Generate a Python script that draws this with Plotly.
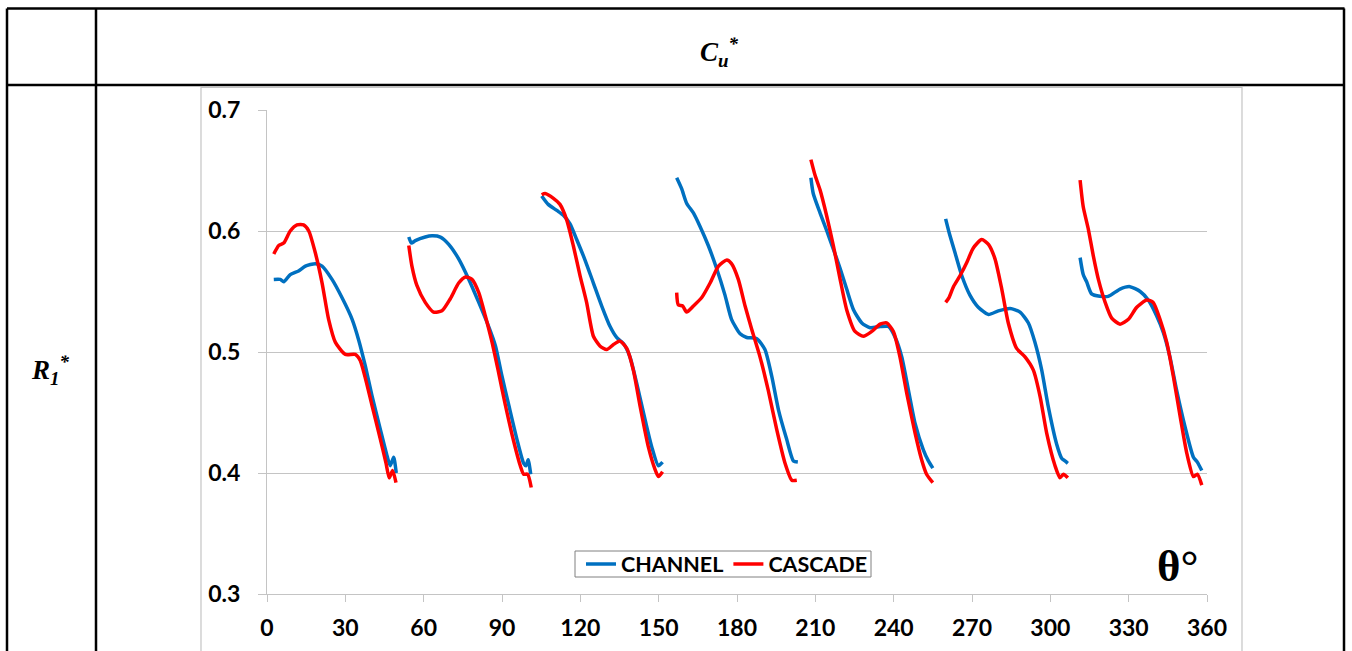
import plotly.graph_objects as go

# ---------------- data ----------------
channel_theta = [
    2.6, 5.1, 6.4, 8.9, 12.1, 14.7, 18.5, 21.1, 24.9, 28.7, 32.6, 35.1, 37.7, 40.2, 43.4, 46.0, 47.2, 48.5, 49.5, None,
    54.3, 55.3, 56.8, 60.6, 63.2, 66.4, 69.6, 73.4, 77.3, 81.1, 84.9, 87.5, 90.0, 92.6, 95.7, 98.3, 99.2, 100.0, 101.0, None,
    105.2, 107.7, 111.0, 113.5, 116.0, 118.6, 121.8, 125.0, 128.2, 131.4, 133.9, 136.5, 139.0, 141.6, 144.8, 147.3, 149.9, 151.5, None,
    156.9, 158.8, 160.7, 163.3, 165.8, 169.0, 172.2, 175.4, 177.9, 181.2, 183.7, 187.6, 190.7, 193.3, 195.9, 199.0, 201.6, 203.3, None,
    208.3, 209.2, 211.8, 214.4, 216.9, 219.5, 222.0, 224.6, 227.8, 231.0, 234.8, 238.0, 240.6, 243.1, 245.7, 248.2, 251.4, 253.3, 255.0, None,
    259.9, 261.2, 263.5, 266.1, 269.2, 272.4, 276.3, 280.1, 284.6, 288.4, 291.6, 294.1, 296.7, 299.2, 302.4, 304.4, 305.6, 306.7, None,
    311.4, 312.6, 313.9, 315.8, 319.0, 322.2, 326.7, 330.5, 334.4, 337.5, 340.7, 343.3, 345.8, 348.4, 351.6, 354.8, 356.3, 358.0,
]
channel_cu = [
    0.560, 0.560, 0.558, 0.564, 0.567, 0.571, 0.573, 0.571, 0.560, 0.545, 0.527, 0.510, 0.488, 0.464, 0.436, 0.414, 0.406, 0.413, 0.400, None,
    0.595, 0.590, 0.592, 0.595, 0.596, 0.595, 0.589, 0.577, 0.560, 0.541, 0.521, 0.505, 0.480, 0.456, 0.428, 0.408, 0.406, 0.411, 0.399, None,
    0.629, 0.622, 0.617, 0.613, 0.606, 0.593, 0.576, 0.557, 0.538, 0.521, 0.512, 0.507, 0.496, 0.474, 0.444, 0.422, 0.406, 0.409, None,
    0.644, 0.635, 0.623, 0.615, 0.604, 0.588, 0.569, 0.547, 0.527, 0.515, 0.512, 0.511, 0.502, 0.480, 0.452, 0.428, 0.410, 0.409, None,
    0.644, 0.631, 0.615, 0.600, 0.585, 0.569, 0.552, 0.535, 0.524, 0.520, 0.521, 0.521, 0.512, 0.496, 0.468, 0.441, 0.419, 0.410, 0.404, None,
    0.610, 0.599, 0.582, 0.563, 0.547, 0.537, 0.531, 0.534, 0.536, 0.533, 0.524, 0.508, 0.485, 0.455, 0.424, 0.412, 0.410, 0.408, None,
    0.578, 0.564, 0.558, 0.548, 0.546, 0.546, 0.552, 0.554, 0.550, 0.543, 0.530, 0.516, 0.496, 0.468, 0.438, 0.413, 0.409, 0.402,
]

cascade_theta = [
    2.6, 4.5, 6.4, 8.9, 11.5, 14.0, 16.0, 18.5, 21.1, 23.6, 26.2, 30.0, 33.8, 35.7, 37.7, 40.2, 43.4, 45.6, 46.8, 48.1, 49.4, None,
    54.3, 55.5, 57.4, 60.6, 63.8, 67.0, 70.2, 73.4, 76.0, 78.5, 81.1, 83.6, 86.2, 88.7, 91.3, 94.5, 97.0, 98.3, 99.8, 101.2, None,
    105.2, 106.5, 109.7, 112.2, 114.8, 117.3, 119.9, 122.4, 125.0, 127.5, 130.1, 132.6, 135.2, 137.8, 140.3, 142.9, 146.0, 148.6, 149.9, 151.5, None,
    156.9, 157.5, 159.2, 160.7, 163.3, 166.5, 169.7, 172.9, 176.1, 177.9, 180.5, 183.1, 185.6, 188.8, 192.0, 195.2, 198.4, 201.0, 202.9, None,
    208.3, 209.9, 211.8, 214.4, 216.9, 219.5, 222.0, 225.2, 228.4, 231.6, 234.8, 237.3, 239.9, 242.4, 245.0, 248.2, 250.7, 252.6, 255.0, None,
    259.9, 261.2, 262.9, 265.4, 268.0, 270.5, 273.7, 276.3, 278.8, 281.4, 283.9, 287.1, 290.3, 293.5, 296.1, 298.6, 301.8, 303.7, 305.0, 306.7, None,
    311.4, 312.6, 314.6, 316.5, 318.4, 321.0, 323.5, 326.7, 329.9, 333.1, 336.9, 339.4, 342.0, 344.6, 347.1, 349.7, 352.3, 354.8, 356.3, 358.0,
]
cascade_cu = [
    0.581, 0.588, 0.590, 0.600, 0.605, 0.605, 0.600, 0.582, 0.557, 0.527, 0.508, 0.498, 0.498, 0.493, 0.478, 0.456, 0.428, 0.408, 0.396, 0.402, 0.392, None,
    0.588, 0.571, 0.555, 0.541, 0.533, 0.534, 0.544, 0.557, 0.562, 0.560, 0.549, 0.530, 0.508, 0.483, 0.456, 0.426, 0.406, 0.399, 0.399, 0.388, None,
    0.630, 0.631, 0.627, 0.622, 0.609, 0.588, 0.563, 0.541, 0.513, 0.505, 0.502, 0.506, 0.509, 0.503, 0.485, 0.455, 0.422, 0.403, 0.397, 0.401, None,
    0.549, 0.539, 0.538, 0.533, 0.538, 0.545, 0.557, 0.571, 0.576, 0.573, 0.560, 0.538, 0.519, 0.496, 0.468, 0.436, 0.408, 0.394, 0.394, None,
    0.659, 0.646, 0.634, 0.612, 0.588, 0.560, 0.535, 0.517, 0.513, 0.517, 0.523, 0.524, 0.517, 0.496, 0.466, 0.433, 0.411, 0.399, 0.392, None,
    0.541, 0.545, 0.554, 0.563, 0.574, 0.586, 0.593, 0.589, 0.577, 0.552, 0.524, 0.503, 0.496, 0.485, 0.463, 0.433, 0.406, 0.396, 0.399, 0.396, None,
    0.642, 0.620, 0.601, 0.579, 0.560, 0.541, 0.528, 0.523, 0.527, 0.537, 0.543, 0.541, 0.527, 0.508, 0.480, 0.447, 0.416, 0.397, 0.399, 0.390,
]

x_ticks = [0, 30, 60, 90, 120, 150, 180, 210, 240, 270, 300, 330, 360]
y_ticks = [0.3, 0.4, 0.5, 0.6, 0.7]
series_names = ["CHANNEL", "CASCADE"]
header_col_label = "<b><i>C<sub>u</sub><sup>*</sup></i></b>"
header_row_label = "<b><i>R<sub>1</sub><sup>*</sup></i></b>"
axis_unit_label = "<b>θ°</b>"

# ---------------- layout geometry (pixels) ----------------
W, H = 1352, 651
PL, PR, PT, PB = 267, 1207, 110, 594   # plot area in pixels


def pxx(px):
    return (px - PL) / (PR - PL)


def pxy(py):
    return (PB - py) / (PB - PT)


fig = go.Figure()
fig.add_trace(go.Scatter(x=channel_theta, y=channel_cu, mode="lines", name=series_names[0],
                         line=dict(color="#0070C0", width=3.5, shape="spline", smoothing=0.6),
                         connectgaps=False))
fig.add_trace(go.Scatter(x=cascade_theta, y=cascade_cu, mode="lines", name=series_names[1],
                         line=dict(color="#FF0000", width=3.5, shape="spline", smoothing=0.6),
                         connectgaps=False))

black = dict(color="black", width=2.5)
gray = dict(color="#c4c4c4", width=1.2)
shapes = [
    # chart frame (gray)
    dict(type="line", xref="paper", yref="paper", x0=pxx(201), x1=pxx(201), y0=pxy(87), y1=pxy(700), line=gray),
    dict(type="line", xref="paper", yref="paper", x0=pxx(1242), x1=pxx(1242), y0=pxy(87), y1=pxy(700), line=gray),
    dict(type="line", xref="paper", yref="paper", x0=pxx(201), x1=pxx(1242), y0=pxy(87.5), y1=pxy(87.5), line=gray),
    # table borders (black)
    dict(type="line", xref="paper", yref="paper", x0=pxx(7), x1=pxx(1344.5), y0=pxy(8.5), y1=pxy(8.5), line=black),
    dict(type="line", xref="paper", yref="paper", x0=pxx(7), x1=pxx(1344.5), y0=pxy(85), y1=pxy(85), line=black),
    dict(type="line", xref="paper", yref="paper", x0=pxx(7), x1=pxx(7), y0=pxy(8.5), y1=pxy(700), line=black),
    dict(type="line", xref="paper", yref="paper", x0=pxx(96), x1=pxx(96), y0=pxy(8.5), y1=pxy(700), line=black),
    dict(type="line", xref="paper", yref="paper", x0=pxx(1344), x1=pxx(1344), y0=pxy(8.5), y1=pxy(700), line=black),
    # legend frame
    dict(type="rect", xref="paper", yref="paper", x0=pxx(575), x1=pxx(871), y0=pxy(551), y1=pxy(577),
         line=dict(color="#808080", width=1), fillcolor="white", layer="above"),
]

annotations = [
    dict(text=header_col_label, xref="paper", yref="paper", x=pxx(719), y=pxy(52),
         xanchor="center", yanchor="middle", showarrow=False,
         font=dict(family="Liberation Serif", size=27, color="black")),
    dict(text=header_row_label, xref="paper", yref="paper", x=pxx(50), y=pxy(370),
         xanchor="center", yanchor="middle", showarrow=False,
         font=dict(family="Liberation Serif", size=27, color="black")),
    dict(text=axis_unit_label, xref="paper", yref="paper", x=pxx(1177), y=pxy(566),
         xanchor="center", yanchor="middle", showarrow=False,
         font=dict(family="Liberation Serif", size=45, color="black")),
]

tick_font = dict(family="Lato", size=23, color="black", weight="bold")

fig.update_layout(
    width=W, height=H,
    margin=dict(l=PL, r=W - PR, t=PT, b=H - PB, pad=0, autoexpand=False),
    paper_bgcolor="white", plot_bgcolor="white",
    font=dict(family="Lato", color="black"),
    shapes=shapes,
    annotations=annotations,
    showlegend=True,
    legend=dict(orientation="h", x=pxx(581), y=pxy(564), xanchor="left", yanchor="middle",
                borderwidth=0, bgcolor="rgba(0,0,0,0)",
                font=dict(family="Lato", size=21.5, color="black", weight="bold"),
                itemwidth=30, tracegroupgap=0),
    xaxis=dict(range=[0, 360], tickvals=x_ticks, ticktext=[str(v) for v in x_ticks],
               showgrid=False, zeroline=False, showline=True, linecolor="#c4c4c4", linewidth=1.2,
               ticks="outside", ticklen=7, tickcolor="#c4c4c4", tickwidth=1.2, automargin=False,
               tickfont=tick_font, ticklabelstandoff=6),
    yaxis=dict(range=[0.3, 0.7], tickvals=y_ticks, ticktext=[f"{v:.1f}" for v in y_ticks],
               showgrid=True, gridcolor="#c4c4c4", gridwidth=1.2, zeroline=False,
               showline=True, linecolor="#c4c4c4", linewidth=1.2, automargin=False,
               ticks="outside", ticklen=8, tickcolor="#c4c4c4", tickwidth=1.2,
               tickfont=tick_font, ticklabelstandoff=13),
)

fig.write_html("out.html")
